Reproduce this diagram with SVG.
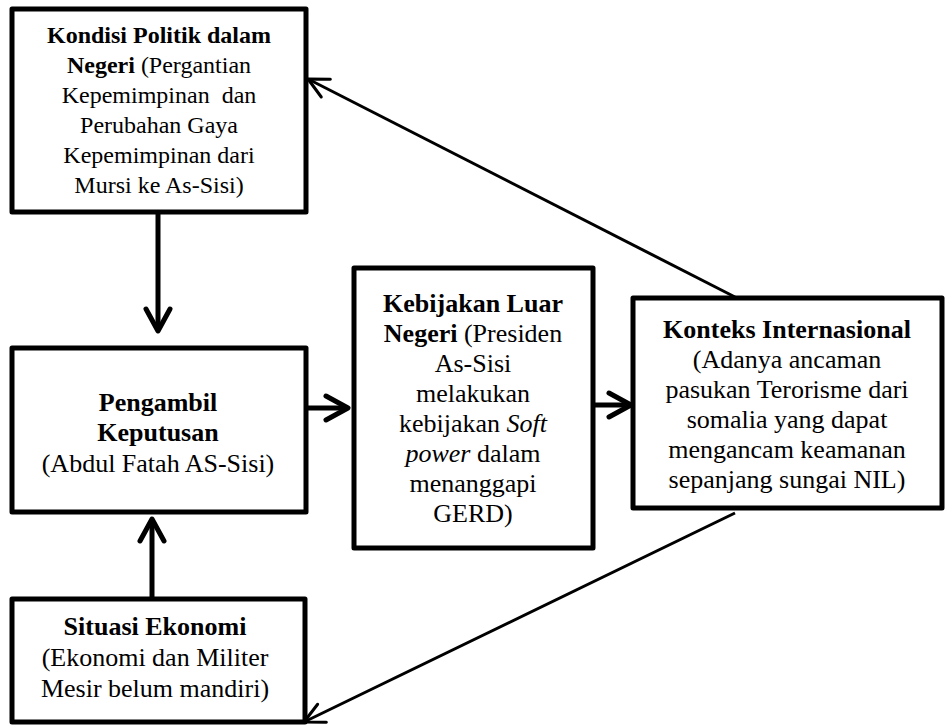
<svg xmlns="http://www.w3.org/2000/svg" width="947" height="726" viewBox="0 0 947 726">
<style>
.box{fill:#fff;stroke:#000;stroke-width:5;stroke-linejoin:round}
.t{font-family:"Liberation Serif","Times New Roman",serif;fill:#000;text-anchor:middle;white-space:pre}
.s24{font-size:24px}
.s26{font-size:26px}
.b{font-weight:bold}
.i{font-style:italic}
.thick{stroke:#000;stroke-width:5;fill:none}
.thin{stroke:#000;stroke-width:3;fill:none}
</style>
<defs>
<marker id="ah" markerUnits="userSpaceOnUse" viewBox="-28 -16 32 32" markerWidth="32" markerHeight="32" refX="0" refY="0" orient="auto" overflow="visible">
<path d="M-22,-12 L0,0 L-22,12" fill="none" stroke="#000" stroke-width="5" stroke-linecap="round" stroke-linejoin="round"/>
</marker>
<marker id="ahs" markerUnits="userSpaceOnUse" viewBox="-28 -16 32 32" markerWidth="32" markerHeight="32" refX="0" refY="0" orient="auto" overflow="visible">
<path d="M-20,-10 L0,0 L-20,10" fill="none" stroke="#000" stroke-width="3" stroke-linecap="round" stroke-linejoin="round"/>
</marker>
</defs>
<g id="connectors">
<line class="thick" x1="158" y1="212" x2="158" y2="331" marker-end="url(#ah)"/>
<line class="thick" x1="152" y1="598" x2="152" y2="519" marker-end="url(#ah)"/>
<line class="thick" x1="306" y1="408" x2="348" y2="408" marker-end="url(#ah)"/>
<line class="thick" x1="593" y1="405" x2="631" y2="405" marker-end="url(#ah)"/>
<line class="thin" x1="735" y1="297" x2="308" y2="79" marker-end="url(#ahs)"/>
<line class="thin" x1="735" y1="513" x2="304" y2="722" marker-end="url(#ahs)"/>
</g>
<g id="kondisi-politik">
<rect class="box" x="12" y="9" width="294" height="203"/>
<text class="t s24" x="159" y="43"><tspan class="b">Kondisi Politik dalam</tspan></text>
<text class="t s24" x="159" y="73"><tspan class="b">Negeri</tspan> (Pergantian</text>
<text class="t s24" x="159" y="103">Kepemimpinan  dan</text>
<text class="t s24" x="159" y="133">Perubahan Gaya</text>
<text class="t s24" x="159" y="163">Kepemimpinan dari</text>
<text class="t s24" x="159" y="193">Mursi ke As-Sisi)</text>
</g>
<g id="pengambil-keputusan">
<rect class="box" x="12" y="348" width="294" height="164"/>
<text class="t s26 b" x="158" y="411">Pengambil</text>
<text class="t s26 b" x="158" y="441">Keputusan</text>
<text class="t s26" x="158" y="472">(Abdul Fatah AS-Sisi)</text>
</g>
<g id="kebijakan-luar-negeri">
<rect class="box" x="354" y="268" width="239" height="280"/>
<text class="t s26 b" x="473" y="312">Kebijakan Luar</text>
<text class="t s26" x="473" y="342"><tspan class="b">Negeri</tspan> (Presiden</text>
<text class="t s26" x="473" y="372">As-Sisi</text>
<text class="t s26" x="473" y="402">melakukan</text>
<text class="t s26" x="473" y="432">kebijakan <tspan class="i">Soft</tspan></text>
<text class="t s26" x="473" y="462"><tspan class="i">power</tspan> dalam</text>
<text class="t s26" x="473" y="492">menanggapi</text>
<text class="t s26" x="473" y="522">GERD)</text>
</g>
<g id="konteks-internasional">
<rect class="box" x="633" y="298" width="309" height="210"/>
<text class="t s26 b" x="787" y="338">Konteks Internasional</text>
<text class="t s26" x="787" y="368">(Adanya ancaman</text>
<text class="t s26" x="787" y="398">pasukan Terorisme dari</text>
<text class="t s26" x="787" y="428">somalia yang dapat</text>
<text class="t s26" x="787" y="458">mengancam keamanan</text>
<text class="t s26" x="787" y="488">sepanjang sungai NIL)</text>
</g>
<g id="situasi-ekonomi">
<rect class="box" x="12" y="599" width="293" height="123"/>
<text class="t s26 b" x="155" y="635">Situasi Ekonomi</text>
<text class="t s26" x="155" y="666">(Ekonomi dan Militer</text>
<text class="t s26" x="155" y="697">Mesir belum mandiri)</text>
</g>
</svg>
